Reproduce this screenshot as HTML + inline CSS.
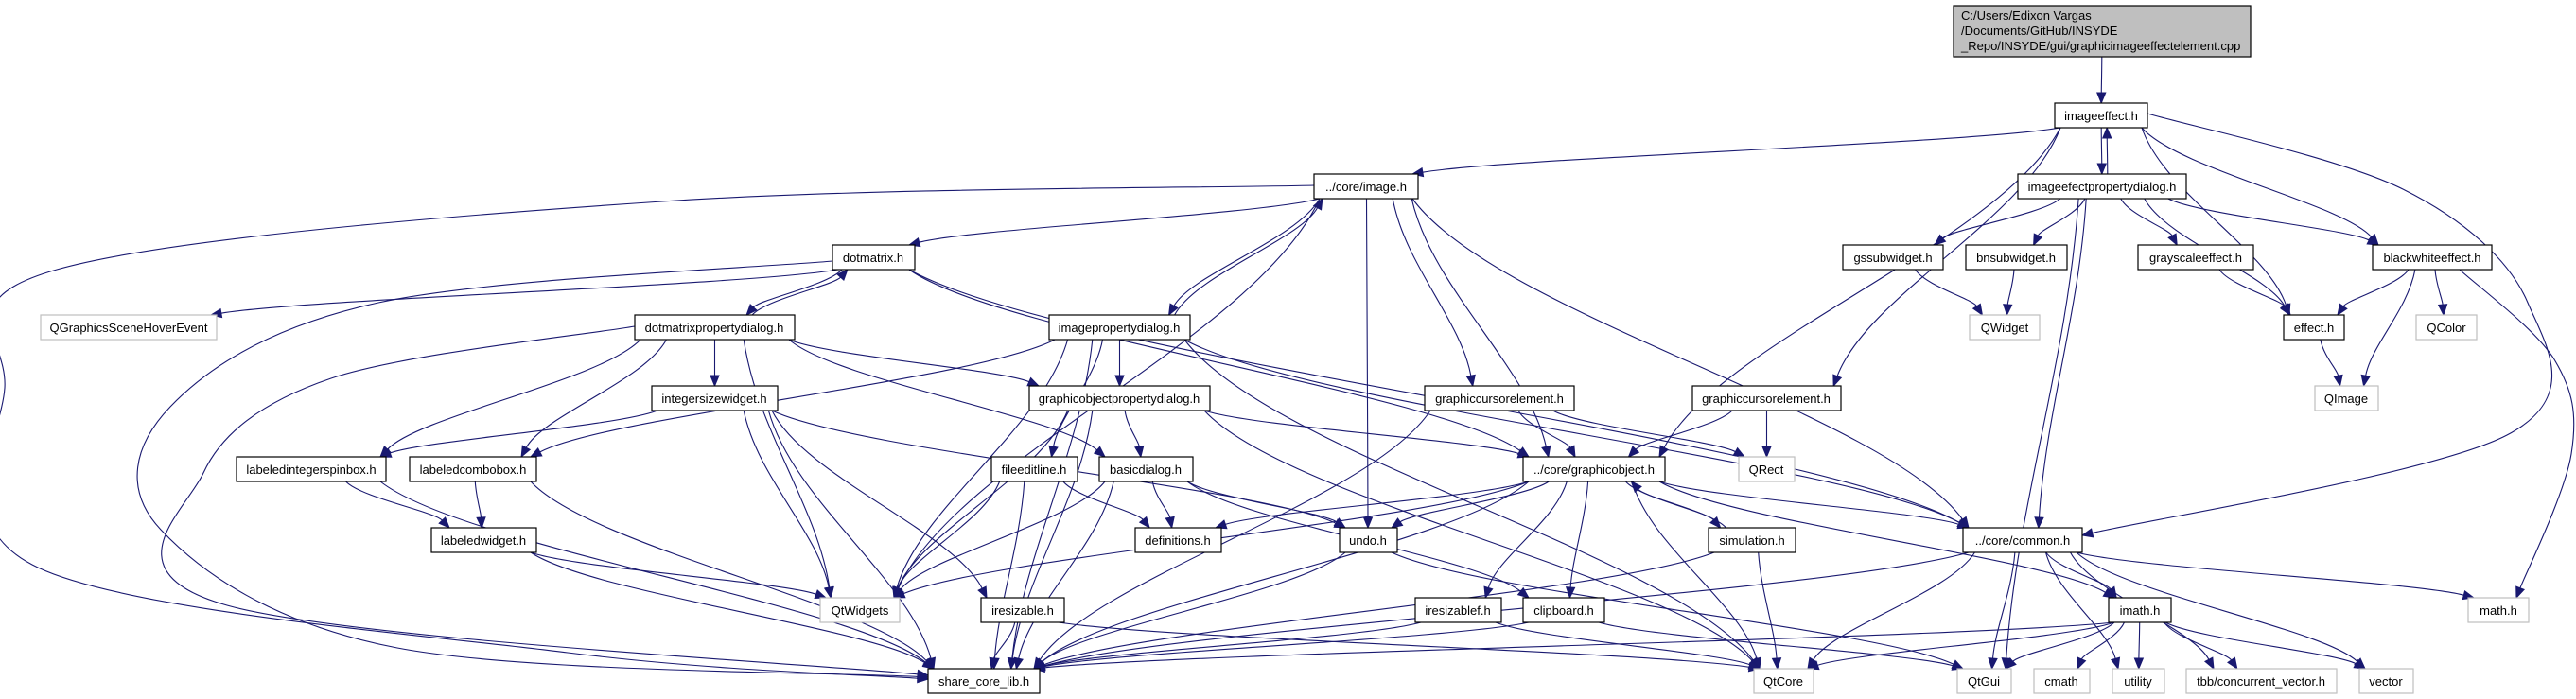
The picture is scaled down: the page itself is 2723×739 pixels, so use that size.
<!DOCTYPE html>
<html><head><meta charset="utf-8">
<style>
html,body{margin:0;padding:0;background:#fff;}
svg{display:block;}
text{font-family:"Liberation Sans",Arial,sans-serif;font-size:13px;fill:#000;}
.n rect{fill:#fff;stroke:#000;stroke-width:1.2;}
.g rect{fill:#fff;stroke:#bfbfbf;stroke-width:1.2;}
</style></head>
<body>
<svg id="s" width="2723" height="739" viewBox="0 0 2723 739" xmlns="http://www.w3.org/2000/svg">
<g id="edges" stroke="#191970" stroke-width="1.1" fill="none"></g>
<g id="heads" fill="#191970" stroke="#191970"></g>
<g id="nodes">
<g id="top"><rect x="2065" y="6" width="314" height="54" fill="#bfbfbf" stroke="#000" stroke-width="1.2"/>
<text x="2073" y="21" font-size="12">C:/Users/Edixon Vargas</text>
<text x="2073" y="37" font-size="12">/Documents/GitHub/INSYDE</text>
<text x="2073" y="53" font-size="12">_Repo/INSYDE/gui/graphicimageeffectelement.cpp</text></g>
<g class="n" id="imageeffect"><rect x="2172" y="109" width="98" height="26"/><text x="2221" y="127" text-anchor="middle">imageeffect.h</text></g>
<g class="n" id="image"><rect x="1389" y="184" width="110" height="26"/><text x="1444" y="202" text-anchor="middle">../core/image.h</text></g>
<g class="n" id="iepd"><rect x="2133" y="184" width="178" height="26"/><text x="2222" y="202" text-anchor="middle">imageefectpropertydialog.h</text></g>
<g class="n" id="dotmatrix"><rect x="880" y="259" width="87" height="26"/><text x="923" y="277" text-anchor="middle">dotmatrix.h</text></g>
<g class="n" id="gssub"><rect x="1948" y="259" width="106" height="26"/><text x="2001" y="277" text-anchor="middle">gssubwidget.h</text></g>
<g class="n" id="bnsub"><rect x="2078" y="259" width="107" height="26"/><text x="2131" y="277" text-anchor="middle">bnsubwidget.h</text></g>
<g class="n" id="gray"><rect x="2260" y="259" width="122" height="26"/><text x="2321" y="277" text-anchor="middle">grayscaleeffect.h</text></g>
<g class="n" id="bw"><rect x="2508" y="259" width="126" height="26"/><text x="2571" y="277" text-anchor="middle">blackwhiteeffect.h</text></g>
<g class="g" id="qgshe"><rect x="43" y="333" width="186" height="26"/><text x="136" y="351" text-anchor="middle">QGraphicsSceneHoverEvent</text></g>
<g class="n" id="dmpd"><rect x="671" y="333" width="169" height="26"/><text x="755" y="351" text-anchor="middle">dotmatrixpropertydialog.h</text></g>
<g class="n" id="ipd"><rect x="1109" y="333" width="149" height="26"/><text x="1183" y="351" text-anchor="middle">imagepropertydialog.h</text></g>
<g class="g" id="qwidget"><rect x="2082" y="333" width="74" height="26"/><text x="2119" y="351" text-anchor="middle">QWidget</text></g>
<g class="n" id="effect"><rect x="2414" y="333" width="64" height="26"/><text x="2446" y="351" text-anchor="middle">effect.h</text></g>
<g class="g" id="qcolor"><rect x="2554" y="333" width="64" height="26"/><text x="2586" y="351" text-anchor="middle">QColor</text></g>
<g class="n" id="isw"><rect x="689" y="408" width="133" height="26"/><text x="755" y="426" text-anchor="middle">integersizewidget.h</text></g>
<g class="n" id="gopd"><rect x="1088" y="408" width="191" height="26"/><text x="1183" y="426" text-anchor="middle">graphicobjectpropertydialog.h</text></g>
<g class="n" id="gce1"><rect x="1506" y="408" width="158" height="26"/><text x="1585" y="426" text-anchor="middle">graphiccursorelement.h</text></g>
<g class="n" id="gce2"><rect x="1789" y="408" width="157" height="26"/><text x="1867" y="426" text-anchor="middle">graphiccursorelement.h</text></g>
<g class="g" id="qimage"><rect x="2447" y="408" width="67" height="26"/><text x="2480" y="426" text-anchor="middle">QImage</text></g>
<g class="n" id="lisb"><rect x="250" y="483" width="158" height="26"/><text x="329" y="501" text-anchor="middle">labeledintegerspinbox.h</text></g>
<g class="n" id="lcb"><rect x="433" y="483" width="134" height="26"/><text x="500" y="501" text-anchor="middle">labeledcombobox.h</text></g>
<g class="n" id="fel"><rect x="1048" y="483" width="91" height="26"/><text x="1093" y="501" text-anchor="middle">fileeditline.h</text></g>
<g class="n" id="bd"><rect x="1162" y="483" width="99" height="26"/><text x="1211" y="501" text-anchor="middle">basicdialog.h</text></g>
<g class="n" id="go"><rect x="1610" y="483" width="150" height="26"/><text x="1685" y="501" text-anchor="middle">../core/graphicobject.h</text></g>
<g class="g" id="qrect"><rect x="1838" y="483" width="59" height="26"/><text x="1867" y="501" text-anchor="middle">QRect</text></g>
<g class="n" id="lw"><rect x="456" y="558" width="111" height="26"/><text x="511" y="576" text-anchor="middle">labeledwidget.h</text></g>
<g class="n" id="defs"><rect x="1200" y="558" width="91" height="26"/><text x="1245" y="576" text-anchor="middle">definitions.h</text></g>
<g class="n" id="undo"><rect x="1416" y="558" width="61" height="26"/><text x="1446" y="576" text-anchor="middle">undo.h</text></g>
<g class="n" id="sim"><rect x="1806" y="558" width="92" height="26"/><text x="1852" y="576" text-anchor="middle">simulation.h</text></g>
<g class="n" id="common"><rect x="2075" y="558" width="126" height="26"/><text x="2138" y="576" text-anchor="middle">../core/common.h</text></g>
<g class="g" id="qtw"><rect x="867" y="632" width="84" height="26"/><text x="909" y="650" text-anchor="middle">QtWidgets</text></g>
<g class="n" id="ires"><rect x="1037" y="632" width="88" height="26"/><text x="1081" y="650" text-anchor="middle">iresizable.h</text></g>
<g class="n" id="iresf"><rect x="1496" y="632" width="91" height="26"/><text x="1541" y="650" text-anchor="middle">iresizablef.h</text></g>
<g class="n" id="clip"><rect x="1610" y="632" width="86" height="26"/><text x="1653" y="650" text-anchor="middle">clipboard.h</text></g>
<g class="n" id="imath"><rect x="2229" y="632" width="66" height="26"/><text x="2262" y="650" text-anchor="middle">imath.h</text></g>
<g class="g" id="mathh"><rect x="2609" y="632" width="64" height="26"/><text x="2641" y="650" text-anchor="middle">math.h</text></g>
<g class="n" id="scl"><rect x="981" y="707" width="118" height="26"/><text x="1040" y="725" text-anchor="middle">share_core_lib.h</text></g>
<g class="g" id="qtcore"><rect x="1854" y="707" width="63" height="26"/><text x="1885" y="725" text-anchor="middle">QtCore</text></g>
<g class="g" id="qtgui"><rect x="2069" y="707" width="57" height="26"/><text x="2097" y="725" text-anchor="middle">QtGui</text></g>
<g class="g" id="cmath"><rect x="2150" y="707" width="59" height="26"/><text x="2179" y="725" text-anchor="middle">cmath</text></g>
<g class="g" id="utility"><rect x="2233" y="707" width="55" height="26"/><text x="2260" y="725" text-anchor="middle">utility</text></g>
<g class="g" id="tbb"><rect x="2311" y="707" width="159" height="26"/><text x="2390" y="725" text-anchor="middle">tbb/concurrent_vector.h</text></g>
<g class="g" id="vector"><rect x="2494" y="707" width="57" height="26"/><text x="2522" y="725" text-anchor="middle">vector</text></g>
</g>
</svg>
<script>
(function(){
var NS="http://www.w3.org/2000/svg";
function R(id){var r=document.querySelector('#'+id+' rect');var x=+r.getAttribute('x'),y=+r.getAttribute('y'),w=+r.getAttribute('width'),h=+r.getAttribute('height');return {x1:x,y1:y,x2:x+w,y2:y+h,cx:x+w/2,cy:y+h/2};}
var E=document.getElementById('edges'),H=document.getElementById('heads');
function cl(v,a,b){return Math.max(a,Math.min(b,v));}
function head(c2,e){var dx=e[0]-c2[0],dy=e[1]-c2[1],l=Math.hypot(dx,dy)||1;dx/=l;dy/=l;var L=11,W=4.5;var bx=e[0]-dx*L,by=e[1]-dy*L;
var p=document.createElementNS(NS,'polygon');p.setAttribute('points',e[0]+','+e[1]+' '+(bx-dy*W)+','+(by+dx*W)+' '+(bx+dy*W)+','+(by-dx*W));H.appendChild(p);return [bx,by];}
function path(d){var p=document.createElementNS(NS,'path');p.setAttribute('d',d);E.appendChild(p);}
function edge(a,b){var A=R(a),B=R(b),s,e,c1,c2;
 if(B.y1>=A.y2-1){var sx=cl(A.cx+(B.cx-A.cx)*0.2,A.x1+6,A.x2-6),ex=cl(B.cx+(A.cx-B.cx)*0.2,B.x1+6,B.x2-6);s=[sx,A.y2];e=[ex,B.y1];var dy=e[1]-s[1];c1=[sx+(ex-sx)*0.15,s[1]+dy*0.35];c2=[ex-(ex-sx)*0.15,e[1]-dy*0.35];}
 else if(B.y2<=A.y1+1){var sx=cl(A.cx+(B.cx-A.cx)*0.2+6,A.x1+6,A.x2-6),ex=cl(B.cx+(A.cx-B.cx)*0.2+6,B.x1+6,B.x2-6);s=[sx,A.y1];e=[ex,B.y2];var dy=e[1]-s[1];c1=[sx+(ex-sx)*0.15,s[1]+dy*0.35];c2=[ex-(ex-sx)*0.15,e[1]-dy*0.35];}
 else {if(B.cx<A.cx){s=[A.x1,A.cy];e=[B.x2,B.cy];}else{s=[A.x2,A.cy];e=[B.x1,B.cy];}c1=[s[0]+(e[0]-s[0])*0.33,s[1]];c2=[s[0]+(e[0]-s[0])*0.66,e[1]];}
 var b=head(c2,e);path('M'+s+' C'+c1+' '+c2+' '+b);}
function via(pts){var d='M'+pts[0];for(var i=0;i<pts.length-1;i++){var p0=pts[i-1]||pts[i],p1=pts[i],p2=pts[i+1],p3=pts[i+2]||p2;var c1=[p1[0]+(p2[0]-p0[0])/6,p1[1]+(p2[1]-p0[1])/6],c2=[p2[0]-(p3[0]-p1[0])/6,p2[1]-(p3[1]-p1[1])/6];var end=p2;if(i==pts.length-2){end=head(c2,p2);}d+=' C'+c1+' '+c2+' '+end;}path(d);}
var L=[['top','imageeffect'],['imageeffect','image'],['imageeffect','iepd'],['iepd','imageeffect'],['imageeffect','effect'],['imageeffect','bw'],['imageeffect','go'],['imageeffect','gce2'],
['iepd','gssub'],['iepd','bnsub'],['iepd','gray'],['iepd','effect'],['iepd','bw'],['iepd','common'],['iepd','qtgui'],
['image','dotmatrix'],['image','ipd'],['image','undo'],['image','go'],['image','gce1'],['image','common'],['image','qtw'],
['dotmatrix','qgshe'],['dotmatrix','dmpd'],['dotmatrix','common'],['dotmatrix','go'],
['dmpd','dotmatrix'],['dmpd','lisb'],['dmpd','lcb'],['dmpd','isw'],['dmpd','gopd'],['dmpd','bd'],['dmpd','qtw'],
['ipd','image'],['ipd','gopd'],['ipd','fel'],['ipd','lcb'],['ipd','qtw'],['ipd','scl'],['ipd','common'],['ipd','qtcore'],
['isw','lisb'],['isw','qtw'],['isw','scl'],['isw','ires'],['isw','undo'],
['gopd','bd'],['gopd','go'],['gopd','qtw'],['gopd','scl'],['gopd','qtcore'],
['gce1','go'],['gce1','scl'],['gce1','qrect'],['gce2','go'],['gce2','qrect'],
['lisb','lw'],['lisb','scl'],['lcb','lw'],['lcb','scl'],['lw','qtw'],['lw','scl'],
['fel','defs'],['fel','qtw'],['fel','scl'],['bd','defs'],['bd','qtw'],['bd','scl'],['bd','undo'],['bd','clip'],
['ires','scl'],['ires','qtcore'],
['go','defs'],['go','undo'],['go','qtw'],['go','scl'],['go','iresf'],['go','clip'],['go','sim'],['go','common'],['go','imath'],['go','qtcore'],
['sim','go'],['sim','qtcore'],['sim','scl'],['undo','scl'],['undo','qtgui'],['iresf','scl'],['iresf','qtcore'],['clip','scl'],['clip','qtgui'],
['common','scl'],['common','qtcore'],['common','qtgui'],['common','imath'],['common','utility'],['common','tbb'],['common','vector'],['common','mathh'],
['imath','scl'],['imath','qtcore'],['imath','qtgui'],['imath','cmath'],['imath','utility'],['imath','tbb'],['imath','vector'],
['bw','effect'],['bw','qcolor'],['bw','qimage'],['effect','qimage'],['gray','effect'],['gssub','qwidget'],['bnsub','qwidget']];
L.forEach(function(e){edge(e[0],e[1]);});
via([[1389,196],[700,213],[60,285],[5,410],[40,600],[600,690],[981,718]]);
via([[880,276],[400,320],[180,430],[170,560],[420,685],[981,716]]);
via([[671,345],[350,400],[215,500],[240,640],[981,714]]);
via([[2270,120],[2540,200],[2672,320],[2650,460],[2201,566]]);
via([[2600,285],[2700,380],[2718,480],[2660,632]]);
})();
</script>
</body></html>
